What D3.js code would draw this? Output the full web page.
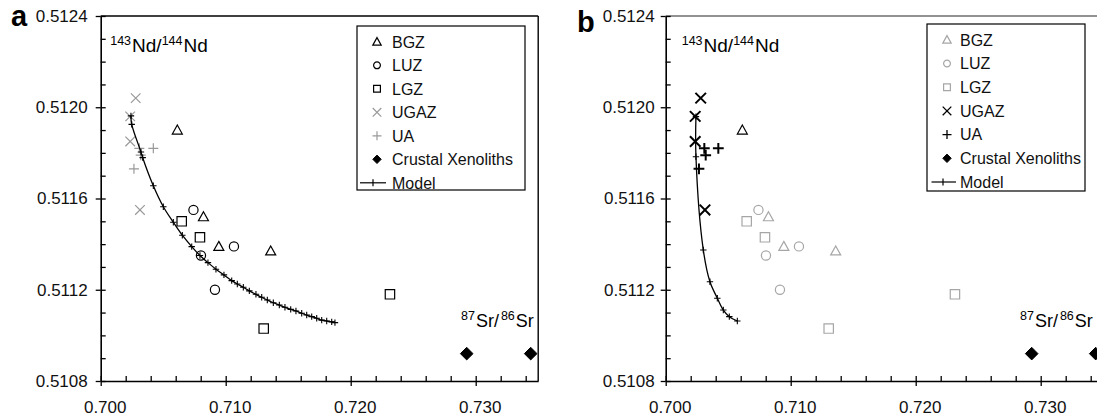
<!DOCTYPE html>
<html lang="en">
<head>
<meta charset="utf-8">
<title>Sr-Nd isotope mixing</title>
<script src="https://d3js.org/d3.v7.min.js"></script>
<style>
  body { margin: 0; background: #fff; }
  text { font-family: "Liberation Sans", Arial, sans-serif; }
</style>
</head>
<body>
<script>
// values: [87Sr/86Sr, 143Nd/144Nd]
const bgz = [[0.70613, 0.51190], [0.70822, 0.51152], [0.70945, 0.51139], [0.71360, 0.51137]];
const luz = [[0.70742, 0.51155], [0.71066, 0.51139], [0.70802, 0.51135], [0.70914, 0.51120]];
const lgz = [[0.70648, 0.51150], [0.70794, 0.51143], [0.71304, 0.51103], [0.72314, 0.51118]];
const ugaz = [[0.70280, 0.51204], [0.70236, 0.51196], [0.70236, 0.51185], [0.70314, 0.51155]];
const ua = [[0.70309, 0.51182], [0.70421, 0.51182], [0.70320, 0.51179], [0.70266, 0.51173]];
const xenoliths = [[0.72928, 0.51092], [0.73440, 0.51092]];

// model curve of panel a
const modelA = [
  [0.70242, 0.511962], [0.70248, 0.511925], [0.70322, 0.511804], [0.70336, 0.511779],
  [0.70421, 0.511656], [0.70501, 0.511564], [0.70581, 0.511496], [0.70653, 0.511439],
  [0.70728, 0.511389], [0.70794, 0.511350], [0.70858, 0.511319], [0.70922, 0.511290],
  [0.70986, 0.511265], [0.71048, 0.511240], [0.71093, 0.511225], [0.71141, 0.511211],
  [0.71189, 0.511195], [0.71242, 0.511180], [0.71288, 0.511167], [0.71333, 0.511155],
  [0.71381, 0.511143], [0.71429, 0.511133], [0.71474, 0.511123], [0.71520, 0.511114],
  [0.71562, 0.511107], [0.71608, 0.511097], [0.71648, 0.511089], [0.71688, 0.511082],
  [0.71728, 0.511075], [0.71768, 0.511067], [0.71808, 0.511063], [0.71848, 0.511059],
  [0.71874, 0.511056]
];
// model curve of panel b
const modelB = [
  [0.70242, 0.511959], [0.70242, 0.511783], [0.70301, 0.511374], [0.70354, 0.511235],
  [0.70413, 0.511163], [0.70461, 0.511111], [0.70509, 0.511082], [0.70573, 0.511063]
];

const seriesNames = ['BGZ', 'LUZ', 'LGZ', 'UGAZ', 'UA', 'Crustal Xenoliths', 'Model'];
const xTicks = [0.700, 0.710, 0.720, 0.730];
const yTicks = [0.5108, 0.5112, 0.5116, 0.5120, 0.5124];
const xDomain = [0.700, 0.735];
const yDomain = [0.5108, 0.5124];

const canvasWidth = 1097;
const canvasHeight = 417;

const svg = d3.select('body')
  .append('svg')
  .attr('width', canvasWidth)
  .attr('height', canvasHeight);

//Symbol paths, s = half size
function shapePath(type, s) {
  switch (type) {
    case 'tri': return `M0,${-s}L${s},${s * 0.8}L${-s},${s * 0.8}Z`;
    case 'circle': return `M${s},0A${s},${s} 0 1,1 ${-s},0A${s},${s} 0 1,1 ${s},0Z`;
    case 'square': return `M${-s},${-s}H${s}V${s}H${-s}Z`;
    case 'x': return `M${-s},${-s}L${s},${s}M${-s},${s}L${s},${-s}`;
    case 'plus': return `M${-s},0H${s}M0,${-s}V${s}`;
    case 'diamond': return `M0,${-s}L${s},0L0,${s}L${-s},0Z`;
  }
}

const dataSeries = [
  { data: bgz, shape: 'tri', size: 5, legSize: 4.2 },
  { data: luz, shape: 'circle', size: 4.6, legSize: 3.4 },
  { data: lgz, shape: 'square', size: 4.7, legSize: 3.4 },
  { data: ugaz, shape: 'x', size: 4.8, legSize: 4.3 },
  { data: ua, shape: 'plus', size: 5, legSize: 4.5 },
  { data: xenoliths, shape: 'diamond', size: 6.3, legSize: 4.2, filled: true }
];

//isotope ratio label with superscript mass numbers
function isoLabel(g, x, y, a, b, el, size, gap) {
  const t = g.append('text').attr('x', x).attr('y', y).attr('font-size', size).attr('fill', '#000');
  t.append('tspan').attr('font-size', 12.5).attr('dy', -7).text(a);
  t.append('tspan').attr('dy', 7).attr('dx', 1).text(el + '/');
  t.append('tspan').attr('font-size', 12.5).attr('dy', -7).attr('dx', gap).text(b);
  t.append('tspan').attr('dy', 7).attr('dx', 1).text(el);
}

function drawPanel(p) {
  const x = d3.scaleLinear().domain(xDomain).range([p.left, p.left + 437.5]);
  const y = d3.scaleLinear().domain(yDomain).range([381, 16]);
  const g = svg.append('g');

  //frame top and right
  g.append('line').attr('x1', x(0.700)).attr('x2', x(0.735)).attr('y1', y(0.5124)).attr('y2', y(0.5124))
    .attr('stroke', p.frameColor).attr('stroke-width', 1.4);
  g.append('line').attr('x1', x(0.735)).attr('x2', x(0.735)).attr('y1', y(0.5124)).attr('y2', y(0.5108))
    .attr('stroke', '#000').attr('stroke-width', 1.4);

  //minor ticks pointing inwards
  const xMinor = d3.range(0, 18).map(i => 0.700 + i * 0.002);
  const yMinor = d3.range(0, 17).map(i => 0.5108 + i * 0.0001);
  g.append('g').attr('transform', 'translate(0,381)')
    .call(d3.axisBottom(x).tickValues(xMinor).tickSize(-5).tickSizeOuter(0).tickFormat(''))
    .call(a => a.select('.domain').remove());
  g.append('g').attr('transform', `translate(${p.left},0)`)
    .call(d3.axisLeft(y).tickValues(yMinor).tickSize(-5).tickSizeOuter(0).tickFormat(''))
    .call(a => a.select('.domain').remove());

  //major axes
  const bottom = g.append('g').attr('transform', 'translate(0,381)')
    .call(d3.axisBottom(x).tickValues(xTicks).tickSize(5).tickSizeOuter(0).tickPadding(15).tickFormat(d3.format('.3f')));
  const left = g.append('g').attr('transform', `translate(${p.left},0)`)
    .call(d3.axisLeft(y).tickValues(yTicks).tickSize(5).tickSizeOuter(0).tickPadding(p.yPad).tickFormat(d3.format('.4f')));
  [bottom, left].forEach(a => {
    a.select('.domain').attr('stroke-width', 1.6);
    a.selectAll('text').attr('font-size', 17).attr('font-family', '"Liberation Sans", Arial, sans-serif').attr('fill', '#111');
  });
  bottom.selectAll('text').attr('dx', 4);
  g.selectAll('.tick line').attr('stroke-width', 1.3);

  //data symbols
  dataSeries.forEach((s, si) => {
    const st = p.styles[si];
    g.append('g').selectAll('path')
      .data(s.data)
      .enter()
      .append('path')
      .attr('transform', d => `translate(${x(d[0])},${y(d[1])})`)
      .attr('d', shapePath(s.shape, s.size * (st.scale || 1)))
      .attr('fill', s.filled ? st.color : 'none')
      .attr('stroke', (d, i) => (st.darkIndex === i ? '#000' : st.color))
      .attr('stroke-width', st.width);
  });

  //model line with tick marks
  const line = d3.line().x(d => x(d[0])).y(d => y(d[1])).curve(d3.curveCatmullRom.alpha(0.5));
  g.append('path').datum(p.model).attr('d', line)
    .attr('fill', 'none').attr('stroke', '#000').attr('stroke-width', 1.3);
  g.append('g').selectAll('path')
    .data(p.model)
    .enter()
    .append('path')
    .attr('transform', d => `translate(${x(d[0])},${y(d[1])})`)
    .attr('d', shapePath('plus', 3.2))
    .attr('stroke', '#000').attr('stroke-width', 1.1);

  //axis titles
  isoLabel(g, p.left + p.ndDx, 52, '143', '144', 'Nd', 19, 0);
  isoLabel(g, p.srX, 327, '87', '86', 'Sr', 18, 2);

  //panel letter
  g.append('text').attr('x', p.letterX).attr('y', p.letterY)
    .attr('font-size', 29).attr('font-weight', 'bold').text(p.letter);

  //legend
  const lg = g.append('g').attr('transform', `translate(${p.legX},${p.legY})`);
  lg.append('rect').attr('width', p.legW).attr('height', p.legH)
    .attr('fill', '#fff').attr('stroke', '#000').attr('stroke-width', 1.2);
  seriesNames.forEach((name, i) => {
    const cy = 15.8 + i * p.legStep;
    if (i < dataSeries.length) {
      const s = dataSeries[i];
      const st = p.styles[i];
      lg.append('path')
        .attr('transform', `translate(20,${cy})`)
        .attr('d', shapePath(s.shape, s.legSize))
        .attr('fill', s.filled ? st.color : 'none')
        .attr('stroke', st.color)
        .attr('stroke-width', Math.min(st.width, 1.3));
    } else {
      lg.append('line').attr('x1', p.modelX1).attr('x2', 29).attr('y1', cy).attr('y2', cy)
        .attr('stroke', '#000').attr('stroke-width', 1.2);
      lg.append('line').attr('x1', 16).attr('x2', 16).attr('y1', cy - 3.5).attr('y2', cy + 3.5)
        .attr('stroke', '#000').attr('stroke-width', 1.2);
    }
    lg.append('text').attr('x', p.legText).attr('y', cy).attr('dy', '0.36em')
      .attr('font-size', 16).attr('fill', '#111').text(name);
  });
}

const black = { color: '#000', width: 1.2 };
const greyA = { color: '#999', width: 1.2 };
const greyB = { color: '#a6a6a6', width: 1.2 };

drawPanel({
  letter: 'a', letterX: 11, letterY: 26,
  left: 100.7, yPad: 8, frameColor: '#000',
  model: modelA, ndDx: 9.5, srX: 461,
  legX: 357, legY: 26, legW: 168, legH: 164, legStep: 23.5, legText: 35, modelX1: 3,
  styles: [black, black, black, greyA, greyA, { color: '#000', width: 1 }]
});

drawPanel({
  letter: 'b', letterX: 577, letterY: 32,
  left: 665.7, yPad: 6, frameColor: '#6e6e6e',
  model: modelB, ndDx: 16, srX: 1020,
  legX: 927, legY: 24, legW: 158, legH: 167, legStep: 23.7, legText: 33, modelX1: 4.5,
  styles: [
    { color: '#a6a6a6', width: 1.2, darkIndex: 0 }, greyB, greyB,
    { color: '#000', width: 2, scale: 1.1 }, { color: '#000', width: 2, scale: 1.08 },
    { color: '#000', width: 1 }
  ]
});
</script>
</body>
</html>
